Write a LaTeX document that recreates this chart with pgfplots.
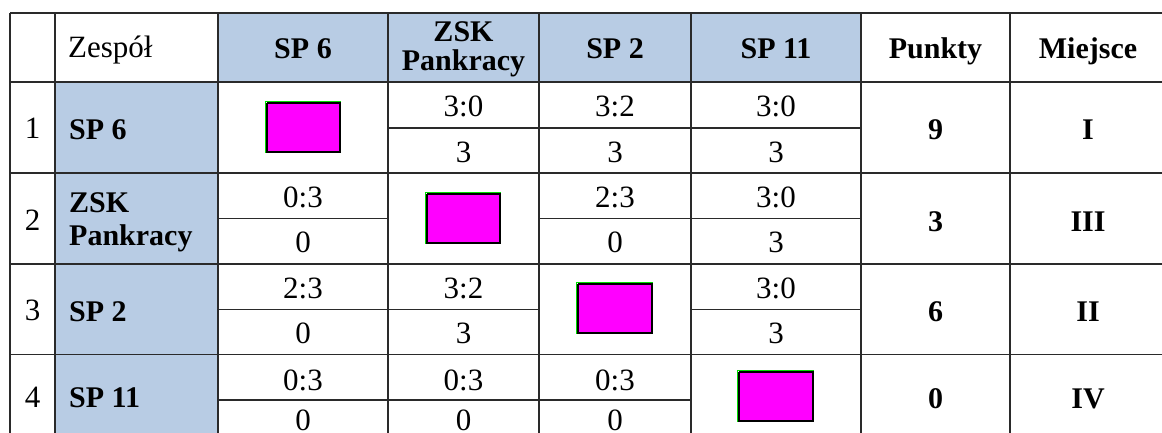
\documentclass[border=0pt]{standalone}
\usepackage{pgfplots}
\pgfplotsset{compat=1.18}
\usepackage{fontspec}
\setmainfont{Liberation Serif}
\definecolor{hdr}{HTML}{B8CCE4}
\definecolor{mag}{HTML}{FF00FF}
\definecolor{grn}{HTML}{00DD00}
\definecolor{ln}{HTML}{2A2A2A}
\tikzset{
  sc/.style={font=\fontsize{31}{33}\selectfont, anchor=base, inner sep=0pt},
  bl/.style={font=\fontsize{30}{32}\selectfont\bfseries, anchor=base, inner sep=0pt},
  blw/.style={font=\fontsize{30}{32}\selectfont\bfseries, anchor=base west, inner sep=0pt},
  gl/.style={ln, line width=1.7pt},
  box/.style={fill=mag, draw=black, line width=1.5pt},
  gbox/.style={grn, line width=1pt}
}
\begin{document}
\begin{tikzpicture}
\begin{axis}[at={(0,0)}, anchor=south west, scale only axis,
  width=1162pt, height=433pt,
  xmin=0, xmax=1162, ymin=0, ymax=433, y dir=reverse,
  hide axis, clip=true, no markers]
% shaded cells
\addplot[fill=hdr, draw=none] coordinates {(218,13) (861,13) (861,82) (218,82) (218,13)};
\addplot[fill=hdr, draw=none] coordinates {(55,82) (218,82) (218,446) (55,446) (55,82)};
% magenta diagonal cells
\addplot[gbox] coordinates {(341.2,152.8) (265.8,152.8) (265.8,101.8) (341.2,101.8)};
\addplot[box] coordinates {(267,103) (340,103) (340,152) (267,152) (267,103)};
\addplot[gbox] coordinates {(425.8,243.8) (425.8,192.8) (501.2,192.8)};
\addplot[box] coordinates {(427,194) (500,194) (500,243) (427,243) (427,194)};
\addplot[gbox] coordinates {(576.8,333.8) (576.8,282.8) (653.2,282.8)};
\addplot[box] coordinates {(578,284) (652,284) (652,333) (578,333) (578,284)};
\addplot[gbox] coordinates {(737.8,421.8) (737.8,370.8) (814.2,370.8)};
\addplot[box] coordinates {(739,372) (813,372) (813,421) (739,421) (739,372)};
% vertical grid lines
\addplot[gl] coordinates {(10,13) (10,446)};
\addplot[gl] coordinates {(55,13) (55,446)};
\addplot[gl] coordinates {(218,13) (218,446)};
\addplot[gl] coordinates {(388,13) (388,446)};
\addplot[gl] coordinates {(539,13) (539,446)};
\addplot[gl] coordinates {(691,13) (691,446)};
\addplot[gl] coordinates {(861,13) (861,446)};
\addplot[gl] coordinates {(1010,13) (1010,446)};
% horizontal full lines
\addplot[gl] coordinates {(10,13) (1170,13)};
\addplot[gl] coordinates {(10,82) (1170,82)};
\addplot[gl] coordinates {(10,173) (1170,173)};
\addplot[gl] coordinates {(10,264) (1170,264)};
\addplot[gl] coordinates {(10,354.5) (1170,354.5)};
\addplot[gl] coordinates {(10,446) (1170,446)};
% split lines inside score cells
\addplot[gl] coordinates {(388,128) (861,128)};
\addplot[gl] coordinates {(218,218.5) (388,218.5)};
\addplot[gl] coordinates {(539,218.5) (861,218.5)};
\addplot[gl] coordinates {(218,309.5) (539,309.5)};
\addplot[gl] coordinates {(691,309.5) (861,309.5)};
\addplot[gl] coordinates {(218,400) (691,400)};
% header
\node[sc, anchor=base west] at (axis cs:68,58) {Zespół};
\node[bl] at (axis cs:303,59) {SP 6};
\node[bl] at (axis cs:463.5,42) {ZSK};
\node[bl] at (axis cs:463.5,71) {Pankracy};
\node[bl] at (axis cs:615,59) {SP 2};
\node[bl] at (axis cs:776,59) {SP 11};
\node[bl] at (axis cs:935.5,59) {Punkty};
\node[bl] at (axis cs:1088,59) {Miejsce};
% row numbers
\node[sc] at (axis cs:32.5,139) {1};
\node[sc] at (axis cs:32.5,230) {2};
\node[sc] at (axis cs:32.5,320) {3};
\node[sc] at (axis cs:32.5,407) {4};
% row labels
\node[blw] at (axis cs:69,140) {SP 6};
\node[blw] at (axis cs:69,212.5) {ZSK};
\node[blw] at (axis cs:69,245) {Pankracy};
\node[blw] at (axis cs:69,321) {SP 2};
\node[blw] at (axis cs:69,407) {SP 11};
% row 1 scores
\node[sc] at (axis cs:463.5,117) {3:0};
\node[sc] at (axis cs:463.5,162) {3};
\node[sc] at (axis cs:615,117) {3:2};
\node[sc] at (axis cs:615,162) {3};
\node[sc] at (axis cs:776,117) {3:0};
\node[sc] at (axis cs:776,162) {3};
% row 2 scores
\node[sc] at (axis cs:303,207) {0:3};
\node[sc] at (axis cs:303,252) {0};
\node[sc] at (axis cs:615,207) {2:3};
\node[sc] at (axis cs:615,252) {0};
\node[sc] at (axis cs:776,207) {3:0};
\node[sc] at (axis cs:776,252) {3};
% row 3 scores
\node[sc] at (axis cs:303,298) {2:3};
\node[sc] at (axis cs:303,343) {0};
\node[sc] at (axis cs:463.5,298) {3:2};
\node[sc] at (axis cs:463.5,343) {3};
\node[sc] at (axis cs:776,298) {3:0};
\node[sc] at (axis cs:776,343) {3};
% row 4 scores
\node[sc] at (axis cs:303,390) {0:3};
\node[sc] at (axis cs:303,430) {0};
\node[sc] at (axis cs:463.5,390) {0:3};
\node[sc] at (axis cs:463.5,430) {0};
\node[sc] at (axis cs:615,390) {0:3};
\node[sc] at (axis cs:615,430) {0};
% points and places
\node[bl] at (axis cs:935.5,140) {9};
\node[bl] at (axis cs:1088,140) {I};
\node[bl] at (axis cs:935.5,231) {3};
\node[bl] at (axis cs:1088,231) {III};
\node[bl] at (axis cs:935.5,321) {6};
\node[bl] at (axis cs:1088,321) {II};
\node[bl] at (axis cs:935.5,408) {0};
\node[bl] at (axis cs:1088,408) {IV};
\end{axis}
\pgfresetboundingbox
\path (0,0) rectangle (1162pt,433pt);
\end{tikzpicture}
\end{document}
